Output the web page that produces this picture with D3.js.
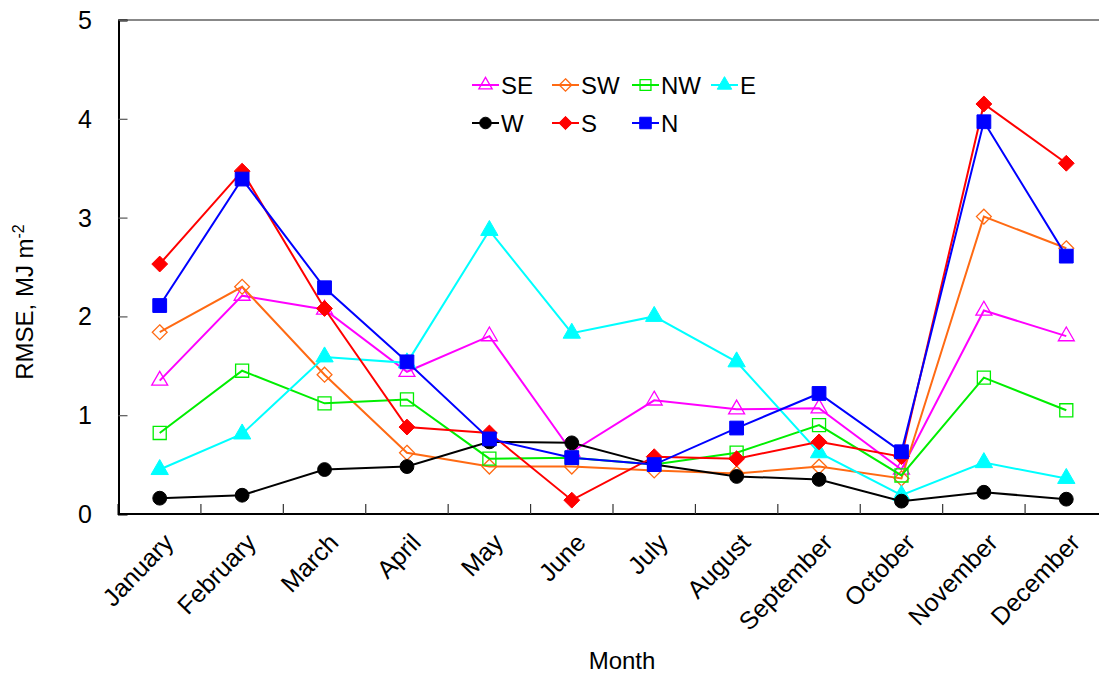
<!DOCTYPE html>
<html lang="en">
<head>
  <meta charset="UTF-8">
  <title>RMSE by month</title>
  <script src="https://d3js.org/d3.v7.min.js"></script>
  <style>
    body { background: #fff; margin: 0; }
    svg { display: block; font-family: "Liberation Sans", Arial, sans-serif; }
    .line { fill: none; stroke-width: 2; }
  </style>
</head>
<body>
  <svg width="1099" height="679"></svg>

  <script>
    const months = ["January", "February", "March", "April", "May", "June",
      "July", "August", "September", "October", "November", "December"];
    const yTicks = [0, 1, 2, 3, 4, 5];

    const SE = [1.35, 2.21, 2.07, 1.44, 1.80, 0.63, 1.15, 1.06, 1.07, 0.45, 2.06, 1.80];
    const SW = [1.84, 2.30, 1.41, 0.62, 0.48, 0.48, 0.44, 0.41, 0.48, 0.36, 3.01, 2.69];
    const NW = [0.82, 1.45, 1.12, 1.16, 0.56, 0.57, 0.50, 0.62, 0.90, 0.39, 1.38, 1.05];
    const E  = [0.45, 0.81, 1.59, 1.53, 2.87, 1.83, 2.00, 1.54, 0.62, 0.19, 0.52, 0.36];
    const W  = [0.16, 0.19, 0.45, 0.48, 0.73, 0.72, 0.50, 0.38, 0.35, 0.13, 0.22, 0.15];
    const S  = [2.53, 3.47, 2.08, 0.88, 0.82, 0.14, 0.58, 0.56, 0.73, 0.58, 4.15, 3.55];
    const N  = [2.11, 3.39, 2.29, 1.54, 0.76, 0.57, 0.50, 0.87, 1.22, 0.63, 3.97, 2.61];

    const series = [
      { name: "SE", values: SE, color: "#ff00ff", symbol: d3.symbolTriangle, size: 110, open: true },
      { name: "SW", values: SW, color: "#ff6a13", symbol: d3.symbolDiamond2, size: 140, open: true },
      { name: "NW", values: NW, color: "#00ee00", symbol: d3.symbolSquare, size: 170, open: true },
      { name: "E",  values: E,  color: "#00ffff", symbol: d3.symbolTriangle, size: 130, open: false },
      { name: "W",  values: W,  color: "#000000", symbol: d3.symbolCircle, size: 150, open: false },
      { name: "S",  values: S,  color: "#ff0000", symbol: d3.symbolDiamond2, size: 160, open: false },
      { name: "N",  values: N,  color: "#0000ff", symbol: d3.symbolSquare, size: 190, open: false }
    ];

    const svg = d3.select("svg");
    const plotL = 118.5, plotR = 1107.5, plotT = 20, plotB = 514;

    const x = d3.scaleBand().domain(months).range([plotL, plotR]);
    const y = d3.scaleLinear().domain([0, 5]).range([plotB, plotT]);

    // frame: grey top line, black left and bottom axes
    svg.append("line")
      .attr("x1", plotL).attr("x2", plotR)
      .attr("y1", plotT).attr("y2", plotT)
      .attr("stroke", "#888").attr("stroke-width", 2);

    const yAxis = svg.append("g")
      .attr("transform", `translate(${plotL},0)`)
      .call(d3.axisRight(y).tickValues(yTicks).tickSize(9).tickFormat(""));
    yAxis.select(".domain").attr("stroke-width", 2);
    yAxis.selectAll(".tick line").attr("stroke", "#555").attr("stroke-width", 1.2);

    svg.append("g").selectAll("text")
      .data(yTicks)
      .join("text")
      .attr("x", 92)
      .attr("y", d => y(d))
      .attr("dy", "0.36em")
      .attr("text-anchor", "end")
      .attr("font-size", 25)
      .text(d => d);

    // x ticks sit between the months
    const xAxis = svg.append("g")
      .attr("transform", `translate(0,${plotB})`)
      .call(d3.axisTop(x).tickSize(10).tickFormat("").offset(0));
    xAxis.select(".domain").attr("stroke-width", 2);
    xAxis.selectAll(".tick").attr("transform", d => `translate(${x(d)},0)`);
    xAxis.selectAll(".tick").filter((d, i) => i === 0).remove();
    xAxis.selectAll(".tick line").attr("stroke", "#333").attr("stroke-width", 1.2);

    svg.append("g").selectAll("text")
      .data(months)
      .join("text")
      .attr("transform", d => `translate(${x(d) + x.bandwidth() / 2 + 9},${plotB + 24}) rotate(-46)`)
      .attr("text-anchor", "end")
      .attr("dy", "0.35em")
      .attr("font-size", 25)
      .text(d => d);

    svg.append("text")
      .attr("x", 622)
      .attr("y", 669)
      .attr("text-anchor", "middle")
      .attr("font-size", 24)
      .text("Month");

    const yTitle = svg.append("text")
      .attr("transform", "translate(33,302) rotate(-90)")
      .attr("text-anchor", "middle")
      .attr("font-size", 24);
    yTitle.append("tspan").text("RMSE, MJ m");
    yTitle.append("tspan").attr("dy", -9).attr("font-size", 16).text("-2");

    // series
    const cx = i => x(months[i]) + x.bandwidth() / 2;
    const line = d3.line().x((d, i) => cx(i)).y(d => y(d));

    series.forEach(s => {
      const g = svg.append("g");
      g.append("path")
        .attr("class", "line")
        .attr("stroke", s.color)
        .attr("d", line(s.values));
      g.selectAll("path.mark")
        .data(s.values)
        .join("path")
        .attr("class", "mark")
        .attr("transform", (d, i) => `translate(${cx(i)},${y(d)})`)
        .attr("d", d3.symbol().type(s.symbol).size(s.size))
        .attr("fill", s.open ? "none" : s.color)
        .attr("stroke", s.color)
        .attr("stroke-width", s.open ? 1.3 : 1);
    });

    // legend
    const legendX = [472, 552, 632, 711];
    const legendY = [85, 123];
    const legend = svg.append("g");
    series.forEach((s, i) => {
      const lx = legendX[i < 4 ? i : i - 4];
      const ly = legendY[i < 4 ? 0 : 1];
      const g = legend.append("g").attr("transform", `translate(${lx},${ly})`);
      g.append("line")
        .attr("x1", 0).attr("x2", 27)
        .attr("stroke", s.color).attr("stroke-width", 2);
      g.append("path")
        .attr("transform", "translate(13.5,0)")
        .attr("d", d3.symbol().type(s.symbol).size(s.size * 0.7))
        .attr("fill", s.open ? "none" : s.color)
        .attr("stroke", s.color)
        .attr("stroke-width", s.open ? 1.3 : 1);
      g.append("text")
        .attr("x", 29)
        .attr("dy", "0.36em")
        .attr("font-size", 24)
        .text(s.name);
    });
  </script>
</body>
</html>
